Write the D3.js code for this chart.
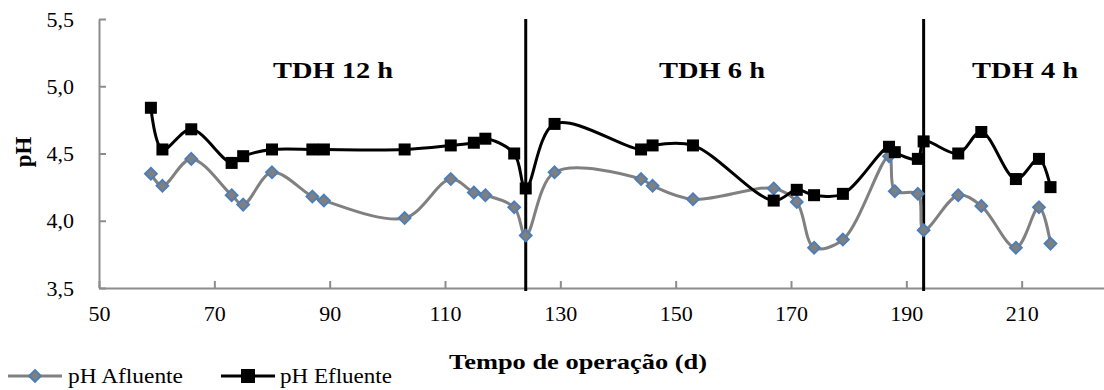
<!DOCTYPE html>
<html>
<head>
<meta charset="utf-8">
<script src="https://cdn.jsdelivr.net/npm/d3@7/dist/d3.min.js"></script>
<style>
  body { margin: 0; background: #fff; }
  svg { font-family: "Liberation Serif", "Times New Roman", serif; }
</style>
</head>
<body>
<svg id="chart" width="1104" height="390"></svg>
<script>
// operation days (both series measured on the same days)
const days = [59, 61, 66, 73, 75, 80, 87, 89, 103, 111, 115, 117, 122, 124, 129,
              144, 146, 153, 167, 171, 174, 179, 187, 188, 192, 193, 199, 203, 209, 213, 215];
const phAfluente = [4.35, 4.26, 4.46, 4.19, 4.12, 4.36, 4.18, 4.15, 4.02, 4.31, 4.21, 4.19, 4.10, 3.89, 4.36,
                    4.31, 4.26, 4.16, 4.24, 4.14, 3.80, 3.86, 4.48, 4.22, 4.20, 3.93, 4.19, 4.11, 3.80, 4.10, 3.83];
const phEfluente = [4.84, 4.53, 4.68, 4.43, 4.48, 4.53, 4.53, 4.53, 4.53, 4.56, 4.58, 4.61, 4.50, 4.24, 4.72,
                    4.53, 4.56, 4.56, 4.15, 4.23, 4.19, 4.20, 4.55, 4.51, 4.46, 4.59, 4.50, 4.66, 4.31, 4.46, 4.25];
const xTicks = [50, 70, 90, 110, 130, 150, 170, 190, 210];
const yTicks = [3.5, 4.0, 4.5, 5.0, 5.5];
// phase changes (TDH) and their labels
const phaseLines = [124, 193];
const phaseLabels = ["TDH 12 h", "TDH 6 h", "TDH 4 h"];
const phaseLabelX = [90.6, 156.3, 210.6];
const phaseLabelLen = [120, 106, 106];

const svg = d3.select("#chart");
const x = d3.scaleLinear().domain([50, 230]).range([99, 1137]);
const y = d3.scaleLinear().domain([3.5, 5.5]).range([288, 19]);
const axisColor = "#8c8c8c";
const fmt = d => d3.format(".1f")(d).replace(".", ",");

// x axis
const xAxis = svg.append("g")
    .attr("transform", `translate(0,${y(3.5)})`)
    .call(d3.axisBottom(x).tickValues(xTicks).tickSize(-7).tickSizeOuter(0).tickPadding(16).tickFormat(d3.format("d")));
xAxis.attr("font-family", null);
xAxis.select(".domain").attr("stroke", axisColor).attr("stroke-width", 2);
xAxis.selectAll(".tick line").attr("stroke", axisColor).attr("stroke-width", 2);
xAxis.selectAll(".tick text").attr("fill", "#000").attr("font-size", 22).attr("dy", "0.75em");

// y axis
const yAxis = svg.append("g")
    .attr("transform", `translate(${x(50)},0)`)
    .call(d3.axisLeft(y).tickValues(yTicks).tickSize(-7).tickSizeOuter(0).tickPadding(25).tickFormat(fmt));
yAxis.attr("font-family", null);
yAxis.select(".domain").attr("stroke", axisColor).attr("stroke-width", 2);
yAxis.selectAll(".tick line").attr("stroke", axisColor).attr("stroke-width", 2);
yAxis.selectAll(".tick text").attr("fill", "#000").attr("font-size", 22);

// axis titles
svg.append("text")
    .attr("x", 578).attr("y", 369)
    .attr("text-anchor", "middle")
    .attr("font-size", 21).attr("font-weight", "bold")
    .attr("textLength", 258).attr("lengthAdjust", "spacingAndGlyphs")
    .text("Tempo de operação (d)");
svg.append("text")
    .attr("transform", "translate(31,152) rotate(-90)")
    .attr("text-anchor", "middle")
    .attr("font-size", 23).attr("font-weight", "bold")
    .text("pH");

// phase separators
svg.selectAll(".phase")
    .data(phaseLines)
    .enter()
    .append("line")
    .attr("x1", d => x(d)).attr("x2", d => x(d))
    .attr("y1", y(5.5)).attr("y2", y(3.5) + 3)
    .attr("stroke", "#000").attr("stroke-width", 3);

svg.selectAll(".phaseLabel")
    .data(phaseLabels)
    .enter()
    .append("text")
    .attr("x", (d, i) => x(phaseLabelX[i]))
    .attr("y", 78)
    .attr("text-anchor", "middle")
    .attr("font-size", 23).attr("font-weight", "bold")
    .attr("textLength", (d, i) => phaseLabelLen[i]).attr("lengthAdjust", "spacingAndGlyphs")
    .text(d => d);

const line = d3.line()
    .x(d => x(d[0]))
    .y(d => y(d[1]))
    .curve(d3.curveCatmullRom.alpha(0.5));

const afl = days.map((d, i) => [d, phAfluente[i]]);
const efl = days.map((d, i) => [d, phEfluente[i]]);

// afluente series
svg.append("path")
    .datum(afl)
    .attr("d", line)
    .attr("fill", "none").attr("stroke", "#808080").attr("stroke-width", 3);
const diamond = "M0,-6L6,0L0,6L-6,0Z";
svg.selectAll(".afl")
    .data(afl)
    .enter()
    .append("path")
    .attr("d", diamond)
    .attr("transform", d => `translate(${x(d[0])},${y(d[1])})`)
    .attr("fill", "#7f7f7f").attr("stroke", "#4a7ebb").attr("stroke-width", 1.8);

// efluente series
svg.append("path")
    .datum(efl)
    .attr("d", line)
    .attr("fill", "none").attr("stroke", "#000").attr("stroke-width", 3);
svg.selectAll(".efl")
    .data(efl)
    .enter()
    .append("rect")
    .attr("x", d => x(d[0]) - 6).attr("y", d => y(d[1]) - 6)
    .attr("width", 12).attr("height", 12)
    .attr("fill", "#000");

// legend
const legend = svg.append("g").attr("transform", "translate(0,376)");
legend.append("line").attr("x1", 8).attr("x2", 62).attr("y1", 0).attr("y2", 0)
    .attr("stroke", "#808080").attr("stroke-width", 3);
legend.append("path").attr("d", diamond).attr("transform", "translate(35,0)")
    .attr("fill", "#7f7f7f").attr("stroke", "#4a7ebb").attr("stroke-width", 1.8);
legend.append("text").attr("x", 68).attr("y", 7).attr("font-size", 21)
    .attr("textLength", 115).attr("lengthAdjust", "spacingAndGlyphs").text("pH Afluente");
legend.append("line").attr("x1", 221).attr("x2", 275).attr("y1", 0).attr("y2", 0)
    .attr("stroke", "#000").attr("stroke-width", 3);
legend.append("rect").attr("x", 241).attr("y", -7).attr("width", 14).attr("height", 14).attr("fill", "#000");
legend.append("text").attr("x", 280).attr("y", 7).attr("font-size", 21)
    .attr("textLength", 112).attr("lengthAdjust", "spacingAndGlyphs").text("pH Efluente");
</script>
</body>
</html>
